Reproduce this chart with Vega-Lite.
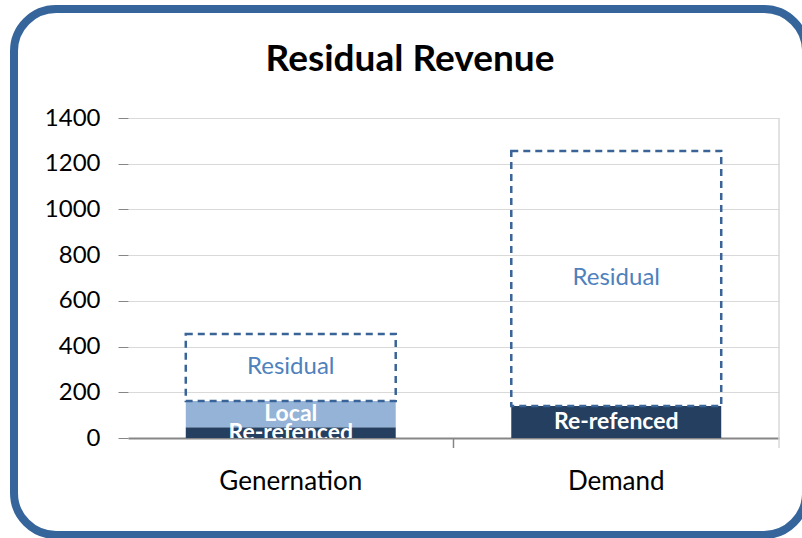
{
  "$schema": "https://vega.github.io/schema/vega-lite/v6.json",
  "width": 651,
  "height": 320,
  "autosize": "none",
  "padding": {"left": 128, "top": 118, "right": 23, "bottom": 100},
  "background": "white",
  "config": {"view": {"stroke": null}, "font": "Lato"},
  "title": {
    "text": "Residual Revenue",
    "fontSize": 37,
    "fontWeight": "bold",
    "color": "#000000",
    "anchor": "middle",
    "frame": "bounds",
    "baseline": "alphabetic",
    "offset": -103
  },
  "layer": [
    {
      "data": {"values": [{}]},
      "layer": [
        {
          "mark": {"type": "rect", "fill": null, "stroke": "#35659A", "strokeWidth": 8, "cornerRadius": 42},
          "encoding": {
            "x": {"datum": -0.1751, "type": "quantitative", "scale": {"domain": [0, 1], "nice": false, "zero": false}, "axis": null},
            "x2": {"datum": 1.0415},
            "y": {"datum": 1.3406, "type": "quantitative", "scale": {"domain": [0, 1], "nice": false, "zero": false}, "axis": null},
            "y2": {"datum": -0.3031}
          }
        },
        {
          "mark": {"type": "rule", "stroke": "#d9d9d9", "strokeWidth": 1.5},
          "encoding": {
            "x": {"datum": 1, "type": "quantitative", "axis": null},
            "y": {"datum": 1, "type": "quantitative", "axis": null},
            "y2": {"datum": -0.03125}
          }
        },
        {
          "mark": {"type": "rule", "stroke": "#868686", "strokeWidth": 1.5},
          "encoding": {
            "x": {"datum": 0.5, "type": "quantitative", "axis": null},
            "y": {"datum": 0, "type": "quantitative", "axis": null},
            "y2": {"datum": -0.03125}
          }
        }
      ]
    },
    {
      "data": {
        "values": [
          {"category": "Genernation", "segment": "Re-refenced", "value": 47},
          {"category": "Genernation", "segment": "Local", "value": 115},
          {"category": "Genernation", "segment": "Residual", "value": 293},
          {"category": "Demand", "segment": "Re-refenced", "value": 140},
          {"category": "Demand", "segment": "Residual", "value": 1116}
        ]
      },
      "transform": [
        {"calculate": "indexof(['Re-refenced','Local','Residual'], datum.segment)", "as": "order"},
        {"stack": "value", "groupby": ["category"], "sort": [{"field": "order", "order": "ascending"}], "as": ["v0", "v1"]},
        {"calculate": "(datum.v0 + datum.v1) / 2", "as": "mid"}
      ],
      "encoding": {
        "x": {
          "field": "category",
          "type": "nominal",
          "sort": ["Genernation", "Demand"],
          "scale": {"paddingInner": 0, "paddingOuter": 0},
          "axis": {
            "title": null,
            "labelAngle": 0,
            "labelFontSize": 26,
            "labelColor": "#000000",
            "labelPadding": 30,
            "ticks": false,
            "grid": false,
            "domainColor": "#868686",
            "domainWidth": 2
          }
        }
      },
      "layer": [
        {
          "transform": [{"filter": "datum.segment !== 'Residual'"}],
          "mark": {"type": "bar", "width": {"band": 0.645}},
          "encoding": {
            "y": {
              "field": "v0",
              "type": "quantitative",
              "scale": {"domain": [0, 1400], "nice": false},
              "axis": {
                "title": null,
                "values": [0, 200, 400, 600, 800, 1000, 1200, 1400],
                "format": "d",
                "domain": false,
                "grid": true,
                "tickColor": "#868686",
                "tickSize": 10,
                "labelFontSize": 24,
                "labelColor": "#000000",
                "labelPadding": 18,
                "gridColor": "#d9d9d9",
                "gridWidth": 1.2
              }
            },
            "y2": {"field": "v1"},
            "color": {
              "field": "segment",
              "type": "nominal",
              "scale": {"domain": ["Re-refenced", "Local"], "range": ["#243F60", "#95B3D7"]},
              "legend": null
            }
          }
        },
        {
          "transform": [{"filter": "datum.segment === 'Residual'"}],
          "mark": {"type": "bar", "width": {"band": 0.645}, "fill": "transparent", "stroke": "#3A6498", "strokeWidth": 2.5, "strokeDash": [7, 5]},
          "encoding": {
            "y": {"field": "v0", "type": "quantitative"},
            "y2": {"field": "v1"}
          }
        },
        {
          "transform": [{"filter": "datum.segment !== 'Residual'"}],
          "mark": {"type": "text", "color": "white", "fontWeight": "bold", "fontSize": 23, "baseline": "middle", "align": "center", "clip": true},
          "encoding": {
            "y": {"field": "mid", "type": "quantitative"},
            "text": {"field": "segment"}
          }
        },
        {
          "transform": [{"filter": "datum.segment === 'Residual'"}],
          "mark": {"type": "text", "color": "#4F81BD", "fontSize": 24, "baseline": "middle", "align": "center"},
          "encoding": {
            "y": {"field": "mid", "type": "quantitative"},
            "text": {"field": "segment"}
          }
        }
      ]
    }
  ],
  "resolve": {"scale": {"x": "independent", "y": "independent"}}
}
